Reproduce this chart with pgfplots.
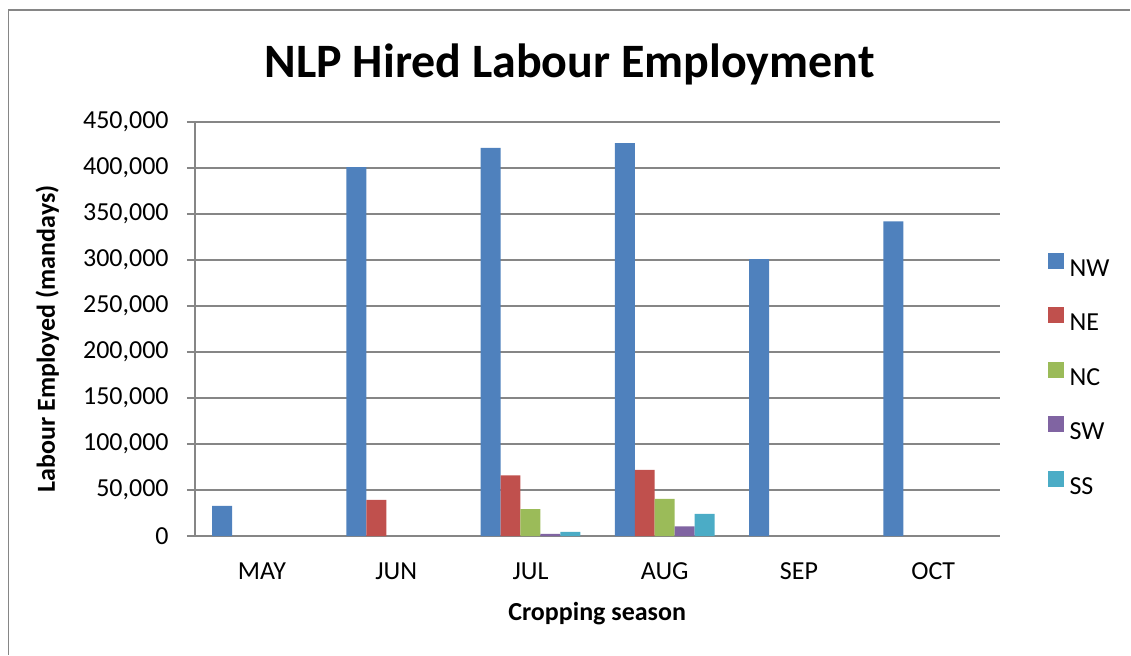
\documentclass[border=0pt]{standalone}
\usepackage{pgfplots}
\pgfplotsset{compat=1.18}
\usepackage{fontspec}
\setmainfont{Carlito}
\definecolor{cNW}{HTML}{4F81BD}
\definecolor{cNE}{HTML}{C0504D}
\definecolor{cNC}{HTML}{9BBB59}
\definecolor{cSW}{HTML}{8064A2}
\definecolor{cSS}{HTML}{4BACC6}
\definecolor{gridc}{HTML}{868686}
\begin{document}
\begin{tikzpicture}[x=0.75pt,y=-0.75pt]
\path (0,0) rectangle (1131,655);
\draw[gridc, line width=1.1pt] (8.5,655) -- (8.5,10) -- (1131,10);
\begin{axis}[
  at={(146.25pt,-402.375pt)}, anchor=south west,
  scale only axis, width=604.5pt, height=310.875pt,
  ybar=0pt, bar width=15pt,
  xmin=-0.5, xmax=5.5, ymin=0, ymax=450000,
  xtick={0,1,2,3,4,5},
  xticklabels={MAY,JUN,JUL,AUG,SEP,OCT},
  ytick={0,50000,...,450000},
  scaled y ticks=false,
  /pgf/number format/.cd, fixed, 1000 sep={,}, assume math mode=true, /pgfplots/.cd,
  axis x line*=bottom, axis y line*=left,
  axis line style={gridc, line width=1.1pt, -},
  ymajorgrids, grid style={gridc, line width=1.1pt},
  tick align=outside, major tick length=6pt,
  ytick style={gridc, line width=1.1pt},
  xtick style={draw=none},
  tick label style={font=\fontsize{19.5}{23}\selectfont, text=black},
  yticklabel style={inner sep=0pt, xshift=-13.5pt},
  xticklabel style={inner sep=0pt, yshift=-13.5pt},
  title={NLP Hired Labour Employment},
  title style={at={(0.4653,1.0869)}, anchor=base, font=\bfseries\fontsize{36}{42}\selectfont},
  xlabel={Cropping season},
  xlabel style={at={(0.4994,-0.2035)}, anchor=base, font=\bfseries\fontsize{19.5}{23}\selectfont},
  ylabel={Labour Employed (mandays)},
  ylabel style={at={(-0.1737,0.4765)}, anchor=base, rotate=0, font=\bfseries\fontsize{19.5}{23}\selectfont},
  legend style={at={(1.0533,0.691)}, anchor=north west, draw=none, fill=none,
    font=\fontsize{19.5}{23}\selectfont, row sep=23.4pt, column sep=4.5pt,
    nodes={inner sep=0pt, text height=12pt, text depth=0pt}},
  legend cell align=left,
  legend image code/.code={\fill[#1] (0pt,-0.5pt) rectangle (12pt,11.5pt);},
]
\addplot[fill=cNW, draw=none] coordinates {(0,33000) (1,401000) (2,421700) (3,427000) (4,301000) (5,342000)};
\addplot[fill=cNE, draw=none] coordinates {(1,39500) (2,65900) (3,72000)};
\addplot[fill=cNC, draw=none] coordinates {(2,29300) (3,40500)};
\addplot[fill=cSW, draw=none] coordinates {(2,2500) (3,10500)};
\addplot[fill=cSS, draw=none] coordinates {(2,4700) (3,24200)};
\legend{NW,NE,NC,SW,SS}
\end{axis}
\end{tikzpicture}
\end{document}
